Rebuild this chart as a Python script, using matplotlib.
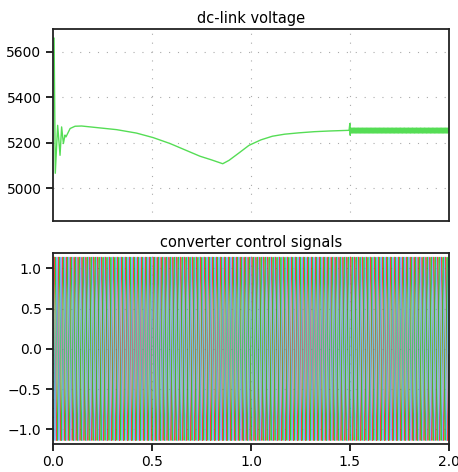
import numpy as np
import matplotlib
matplotlib.use("Agg")
import matplotlib.pyplot as plt

# dc-link voltage (t in s, V)
DC_T = [0.0, 0.004, 0.010, 0.022, 0.034, 0.042, 0.051, 0.059, 0.064,
        0.085, 0.11, 0.143, 0.20, 0.32, 0.42, 0.505, 0.59, 0.742, 0.80,
        0.857, 0.889, 0.94, 0.99, 1.05, 1.108, 1.17, 1.243, 1.32, 1.395,
        1.496, 1.500, 1.502]
DC_V = [5660, 5660, 5065, 5276, 5144, 5269, 5196, 5233, 5225,
        5262, 5272, 5273, 5268, 5257, 5242, 5222, 5196, 5140, 5124,
        5107, 5122, 5155, 5188, 5212, 5228, 5237, 5243, 5248, 5251,
        5254, 5284, 5232]

# ripple after the step at t = 1.5 s
RIPPLE_START = 1.502
RIPPLE_MEAN = 5253
RIPPLE_AMP = 11
RIPPLE_FREQ = 150

# converter control signals: three phases
CTRL_FREQ = 50
CTRL_AMP = 1.14
CTRL_PHASES_DEG = [0, -120, 120]
CTRL_COLORS = ["#ff1a1a", "#12c812", "#5aaaff"]

fig = plt.figure(figsize=(4.58, 4.72), dpi=100)
ax1 = fig.add_axes([0.1164, 0.5318, 0.8633, 0.4068])
ax2 = fig.add_axes([0.1164, 0.0600, 0.8633, 0.4046])

# top: dc-link voltage
t_r = np.arange(RIPPLE_START, 2.0, 0.0005)
v_r = RIPPLE_MEAN + RIPPLE_AMP * np.sin(2 * np.pi * RIPPLE_FREQ * (t_r - RIPPLE_START))
t_dc = np.concatenate([DC_T, t_r])
v_dc = np.concatenate([DC_V, v_r])
ax1.plot(t_dc, v_dc, color="#55dd55", linewidth=1.0)

ax1.set_xlim(0, 2.0)
ax1.set_ylim(4855, 5700)
ax1.set_yticks([5000, 5200, 5400, 5600])
ax1.set_xticks([0.5, 1.0, 1.5])
ax1.tick_params(axis="x", length=0, labelbottom=False)
ax1.set_title("dc-link voltage", fontsize=10.5, pad=4)

# bottom: control signals
t = np.arange(0, 2.0, 0.0002)
for ph, col in zip(CTRL_PHASES_DEG, CTRL_COLORS):
    y = CTRL_AMP * np.sin(2 * np.pi * CTRL_FREQ * t + np.deg2rad(ph))
    ax2.plot(t, y, color=col, linewidth=0.6, alpha=0.85)

ax2.set_xlim(0, 2.0)
ax2.set_ylim(-1.18, 1.195)
ax2.set_yticks([-1.0, -0.5, 0.0, 0.5, 1.0])
ax2.set_xticks([0.0, 0.5, 1.0, 1.5, 2.0])
ax2.set_title("converter control signals", fontsize=10.5, pad=4)

for ax in (ax1, ax2):
    ax.grid(True, color="#aaaaaa", linestyle=(0, (1, 7)), linewidth=0.8)
    ax.set_axisbelow(True)
    for s in ax.spines.values():
        s.set_color("#222222")
        s.set_linewidth(1.3)
    ax.tick_params(axis="y", labelsize=10, length=5, width=1.2)
ax2.tick_params(axis="x", labelsize=10, length=5, width=1.2)

plt.savefig("out.png", dpi=100)
